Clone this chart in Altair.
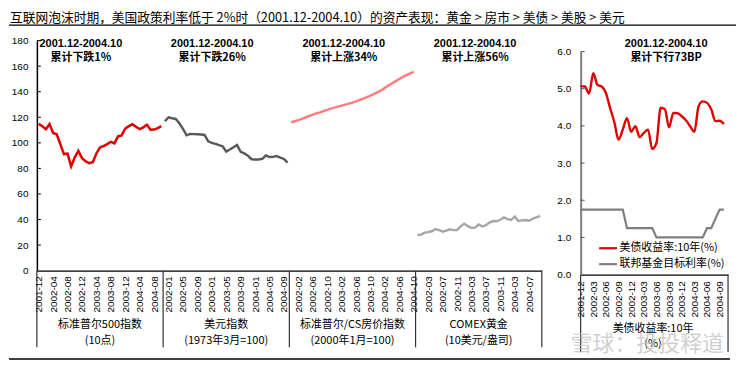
import altair as alt
import pandas as pd

# ---------------- data ----------------
months = ["2001-12", "2002-01", "2002-02", "2002-03", "2002-04", "2002-05", "2002-06",
          "2002-07", "2002-08", "2002-09", "2002-10", "2002-11", "2002-12", "2003-01",
          "2003-02", "2003-03", "2003-04", "2003-05", "2003-06", "2003-07", "2003-08",
          "2003-09", "2003-10", "2003-11", "2003-12", "2004-01", "2004-02", "2004-03",
          "2004-04", "2004-05", "2004-06", "2004-07", "2004-08", "2004-09", "2004-10"]

spx = [114.8, 113.0, 110.7, 114.7, 107.7, 106.7, 99.0, 91.2, 91.6, 81.5,
       88.6, 93.6, 88.0, 85.6, 84.1, 84.8, 91.7, 96.4, 97.5, 99.0,
       100.8, 99.6, 105.1, 105.8, 111.2, 113.1, 114.5, 112.6, 110.7, 112.1,
       114.1, 110.2, 110.4, 111.5, 113.0]
usd = [116.9, 120.0, 119.2, 118.7, 115.3, 111.0, 105.9, 107.0, 106.8, 106.7,
       106.5, 106.2, 101.2, 100.0, 99.2, 98.2, 97.3, 93.2, 94.8, 96.5,
       98.3, 93.0, 91.8, 90.0, 87.2, 87.0, 87.0, 87.5, 90.2, 88.9,
       89.0, 89.6, 88.5, 87.4, 84.6]
house = [116.1, 116.9, 117.8, 118.8, 119.9, 121.0, 122.0, 123.0, 123.9, 124.9,
         125.8, 126.8, 127.6, 128.3, 129.1, 129.9, 130.7, 131.5, 132.5, 133.6,
         134.6, 135.7, 137.0, 138.3, 139.7, 141.2, 143.0, 144.8, 146.6, 148.3,
         150.0, 151.6, 153.0, 154.3, 155.6]
gold = [27.9, 28.2, 29.7, 30.1, 30.8, 32.6, 31.8, 30.5, 31.3, 32.3,
        31.7, 31.8, 34.7, 36.8, 34.8, 33.5, 33.7, 36.1, 34.6, 35.5,
        37.6, 38.8, 38.6, 39.8, 41.6, 40.3, 39.6, 42.4, 38.9, 39.3,
        39.6, 39.1, 40.7, 41.6, 42.9]
ust10 = [5.07, 5.06, 4.87, 5.42, 5.10, 5.06, 4.88, 4.48, 4.10, 3.63,
         3.90, 4.21, 3.84, 3.99, 3.70, 3.81, 3.90, 3.38, 3.54, 4.49,
         4.45, 3.96, 4.35, 4.34, 4.26, 4.15, 3.99, 3.84, 4.53, 4.66,
         4.62, 4.45, 4.13, 4.14, 4.05]
ffr = [1.75, 1.75, 1.75, 1.75, 1.75, 1.75, 1.75, 1.75, 1.75, 1.75,
       1.75, 1.25, 1.25, 1.25, 1.25, 1.25, 1.25, 1.25, 1.00, 1.00,
       1.00, 1.00, 1.00, 1.00, 1.00, 1.00, 1.00, 1.00, 1.00, 1.00,
       1.25, 1.25, 1.50, 1.75, 1.75]

group_names = ["标准普尔500指数", "美元指数", "标准普尔/CS房价指数", "COMEX黄金"]
group_units = ["(10点)", "(1973年3月=100)", "(2000年1月=100)", "(10美元/盎司)"]
group_notes = ["累计下跌1%", "累计下跌26%", "累计上涨34%", "累计上涨56%"]
period = "2001.12-2004.10"
right_note = "累计下行73BP"
right_series = ["美债收益率:10年(%)", "联邦基金目标利率(%)"]
right_xtitle = ["美债收益率:10年", "(%)"]
title_text = "互联网泡沫时期，美国政策利率低于 2%时（2001.12-2004.10）的资产表现：黄金 > 房市 > 美债 > 美股 > 美元"
watermark = "雪球：投投释道"

FONT = "Liberation Sans, Noto Sans CJK SC"
CJK = "Noto Sans CJK SC, Liberation Sans"

W1, H1 = 507, 231
W2, H2 = 148, 235
N = len(months)

# ---------------- left panel ----------------
keys = ["spx", "usd", "house", "gold"]
rows = []
for g, (k, vals) in enumerate(zip(keys, [spx, usd, house, gold])):
    for i, v in enumerate(vals):
        rows.append({"idx": g * N + i, "value": v, "series": k})
left_df = pd.DataFrame(rows)

xs_left = alt.Scale(domain=[-0.5, 4 * N - 0.5], nice=False, zero=False)
ys_left = alt.Scale(domain=[0, 180], nice=False)
left_vals = list(range(0, 4 * N, 4))
left_labels = [months[v % N] for v in left_vals]
left_expr = "[" + ",".join("'%s'" % s for s in left_labels) + "][datum.value/4]"

lines_left = alt.Chart(left_df).mark_line().encode(
    x=alt.X("idx:Q", scale=xs_left, title=None,
            axis=alt.Axis(values=left_vals, tickCount=500, labelExpr=left_expr, labelAngle=270,
                          labelFontSize=10, labelFont=FONT, labelColor="#000000",
                          labelPadding=5, ticks=False, tickSize=0, grid=False,
                          domainColor="#000000", domainWidth=1.2, labelOverlap=False,
                          labelBound=False)),
    y=alt.Y("value:Q", scale=ys_left, title=None,
            axis=alt.Axis(values=list(range(0, 181, 20)), tickCount=500, format="d",
                          labelFontSize=10, labelFont=FONT, labelColor="#000000",
                          labelPadding=9, ticks=False, tickSize=0, grid=False,
                          domainColor="#000000", domainWidth=1.5, labelOverlap=False)),
    color=alt.Color("series:N", scale=alt.Scale(domain=keys,
                    range=["#e00000", "#595959", "#ff7c80", "#a6a6a6"]), legend=None),
    strokeWidth=alt.StrokeWidth("series:N", scale=alt.Scale(domain=keys, range=[2.5, 2.4, 2.0, 2.0]),
                                legend=None),
)

tick_df = pd.DataFrame({"t": list(range(20, 181, 20))})
ticks_left = alt.Chart(tick_df).mark_rule(color="#000000", strokeWidth=1).encode(
    y=alt.Y("t:Q", scale=ys_left), x=alt.value(0), x2=alt.value(4))

note_df = pd.DataFrame({"x": [11.7, 48.1, 84.6, 121.0], "l1": [period] * 4, "l2": group_notes})
note1 = alt.Chart(note_df).mark_text(fontSize=11, fontWeight="bold", font=FONT, baseline="middle",
                                     align="center", color="#000000").encode(
    x=alt.X("x:Q", scale=xs_left), y=alt.value(3.4), text="l1:N")
note2 = alt.Chart(note_df).mark_text(fontSize=11, fontWeight="bold", font=CJK, baseline="middle",
                                     align="center", color="#000000").encode(
    x=alt.X("x:Q", scale=xs_left), y=alt.value(17.4), text="l2:N")

sep_df = pd.DataFrame({"sx": [-0.5, N - 0.5, 2 * N - 0.5, 3 * N - 0.5, 4 * N - 0.5]})
seps = alt.Chart(sep_df).mark_rule(color="#333333", strokeWidth=1.2).encode(
    x=alt.X("sx:Q", scale=xs_left), y=alt.value(H1), y2=alt.value(H1 + 77))

grp_df = pd.DataFrame({"gx": [17, 52, 87, 122], "name": group_names, "unit": group_units})
grp1 = alt.Chart(grp_df).mark_text(fontSize=11, font=CJK, baseline="middle", align="center",
                                   color="#000000").encode(
    x=alt.X("gx:Q", scale=xs_left), y=alt.value(286), text="name:N")
grp2 = alt.Chart(grp_df).mark_text(fontSize=11, font=CJK, baseline="middle", align="center",
                                   color="#000000").encode(
    x=alt.X("gx:Q", scale=xs_left), y=alt.value(301.5), text="unit:N")

title_df = pd.DataFrame({"t": [title_text]})
title_mark = alt.Chart(title_df).mark_text(fontSize=12.8, font=CJK, align="left", baseline="middle",
                                           color="#000000").encode(
    x=alt.value(-27), y=alt.value(-23), text="t:N")
one = pd.DataFrame({"a": [0]})
top_rule = alt.Chart(one).mark_rule(color="#000000", strokeWidth=1.3).encode(
    x=alt.value(-28), x2=alt.value(702), y=alt.value(-15.6))
bot_rule = alt.Chart(one).mark_rule(color="#000000", strokeWidth=1.3).encode(
    x=alt.value(-28), x2=alt.value(696), y=alt.value(319.7))

left = alt.layer(lines_left, ticks_left, note1, note2, seps, grp1, grp2,
                 title_mark, top_rule, bot_rule).properties(width=W1, height=H1)

# ---------------- right panel ----------------
rrows = []
for i in range(N):
    rrows.append({"idx": i, "value": ust10[i], "s": right_series[0]})
for i in range(N):
    rrows.append({"idx": i, "value": ffr[i], "s": right_series[1]})
right_df = pd.DataFrame(rrows)

xs_right = alt.Scale(domain=[0, N], nice=False, zero=False)
ys_right = alt.Scale(domain=[0, 6], range=[H2, 11], nice=False)
right_vals = list(range(0, N, 3))
right_labels = [months[v] for v in right_vals]
right_expr = "[" + ",".join("'%s'" % s for s in right_labels) + "][datum.value/3]"

color_r = alt.Color("s:N", scale=alt.Scale(domain=right_series, range=["#e00000", "#7f7f7f"]),
                    legend=alt.Legend(title=None, orient="none", legendX=17, legendY=198,
                                      symbolType="stroke", symbolSize=320, symbolStrokeWidth=2.2,
                                      labelFontSize=11, labelFont=CJK, labelColor="#000000",
                                      labelOffset=1, rowPadding=0, padding=0))

xr = alt.X("idx:Q", scale=xs_right, title=None,
           axis=alt.Axis(values=right_vals, tickCount=500, labelExpr=right_expr, labelAngle=270,
                         labelFontSize=10, labelFont=FONT, labelColor="#000000",
                         labelPadding=6, ticks=False, tickSize=0, grid=False,
                         domainColor="#000000", domainWidth=1.2, labelOverlap=False,
                         labelBound=False))
yr = alt.Y("value:Q", scale=ys_right, title=None,
           axis=alt.Axis(values=[0, 1, 2, 3, 4, 5, 6], tickCount=500, format=".1f",
                         labelFontSize=10, labelFont=FONT, labelColor="#000000",
                         labelPadding=10, ticks=False, tickSize=0, grid=False,
                         domainColor="#7f7f7f", domainWidth=2, labelOverlap=False))

red_line = alt.Chart(right_df).transform_filter(
    alt.datum.s == right_series[0]).mark_line(interpolate="monotone", strokeWidth=2.4).encode(
    x=xr, y=yr, color=color_r)
gray_line = alt.Chart(right_df).transform_filter(
    alt.datum.s == right_series[1]).mark_line(strokeWidth=2.2).encode(
    x=xr, y=yr, color=color_r)

rtick_df = pd.DataFrame({"t": [1, 2, 3, 4, 5, 6]})
ticks_right = alt.Chart(rtick_df).mark_rule(color="#555555", strokeWidth=1).encode(
    y=alt.Y("t:Q", scale=ys_right), x=alt.value(0), x2=alt.value(4))

rnote_df = pd.DataFrame({"x": [20.3], "l1": [period], "l2": [right_note]})
rnote1 = alt.Chart(rnote_df).mark_text(fontSize=11, fontWeight="bold", font=FONT, baseline="middle",
                                       align="center", color="#000000").encode(
    x=alt.X("x:Q", scale=xs_right), y=alt.value(3.6), text="l1:N")
rnote2 = alt.Chart(rnote_df).mark_text(fontSize=11, fontWeight="bold", font=CJK, baseline="middle",
                                       align="center", color="#000000").encode(
    x=alt.X("x:Q", scale=xs_right), y=alt.value(17.8), text="l2:N")

rsep_df = pd.DataFrame({"sx": [0, N]})
rseps = alt.Chart(rsep_df).mark_rule(color="#333333", strokeWidth=1.2).encode(
    x=alt.X("sx:Q", scale=xs_right), y=alt.value(H2), y2=alt.value(H2 + 78))

rt_df = pd.DataFrame({"t": [right_xtitle[0]]})
rt1 = alt.Chart(rt_df).mark_text(fontSize=11, font=CJK, baseline="middle", align="center",
                                 color="#000000").encode(
    x=alt.value(72.7), y=alt.value(289.5), text="t:N")
rt_df2 = pd.DataFrame({"t": [right_xtitle[1]]})
rt2 = alt.Chart(rt_df2).mark_text(fontSize=11, font=CJK, baseline="middle", align="center",
                                  color="#000000").encode(
    x=alt.value(72.7), y=alt.value(304.5), text="t:N")

wm_df = pd.DataFrame({"t": [watermark]})
wm = alt.Chart(wm_df).mark_text(fontSize=22, font=CJK, baseline="middle", align="left",
                                color="#bdbdbd", opacity=0.7).encode(
    x=alt.value(-10), y=alt.value(304.5), text="t:N")

right = alt.layer(red_line, gray_line, ticks_right, rnote1, rnote2, rseps, rt1, rt2, wm
                  ).properties(width=W2, height=H2)

chart = alt.hconcat(left, right, spacing=39, bounds="flush").resolve_scale(
    x="independent", y="independent", color="independent", strokeWidth="independent"
).resolve_axis(x="independent", y="independent").properties(
    padding={"left": 0, "top": 3, "right": 0, "bottom": 0}, background="#ffffff"
).configure_view(stroke=None).configure_axis(labelOverlap=False, labelSeparation=0)

chart.save("out.html", embed_options={"renderer": "svg", "actions": False})
